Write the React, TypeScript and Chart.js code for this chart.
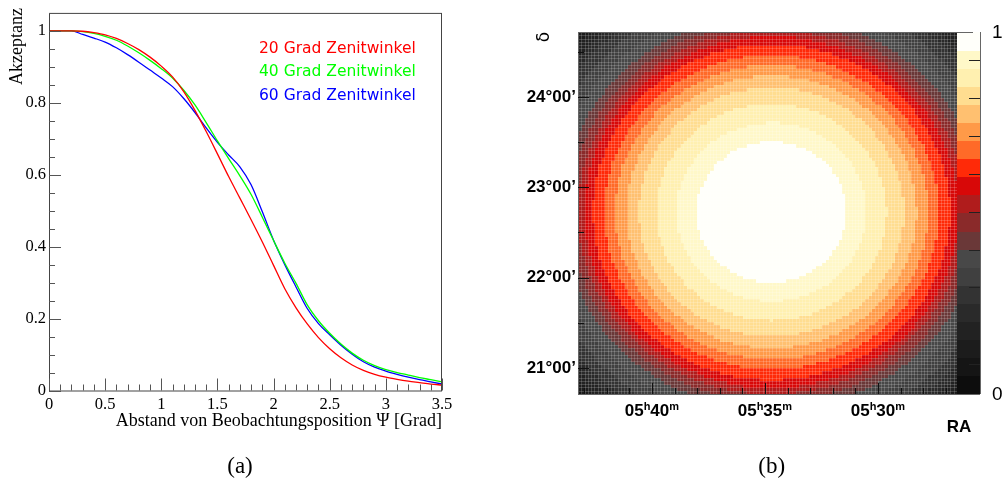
import React, { useEffect, useRef } from "react";
import { Chart, registerables } from "chart.js";

Chart.register(...registerables);

// ---------- Panel (a): acceptance vs. offset ----------
const psiDeg = [
  0, 0.1, 0.2, 0.3, 0.4, 0.5, 0.6, 0.7, 0.8, 0.9, 1.0, 1.1, 1.2, 1.3, 1.4, 1.5, 1.6, 1.7,
  1.8, 1.9, 2.0, 2.1, 2.2, 2.3, 2.4, 2.5, 2.6, 2.7, 2.8, 2.9, 3.0, 3.1, 3.2, 3.3, 3.4, 3.5,
];
const accept20 = [
  1.0, 1.0, 1.0, 0.999, 0.995, 0.989, 0.979, 0.965, 0.948, 0.927, 0.902, 0.872, 0.831, 0.779,
  0.72, 0.658, 0.595, 0.535, 0.475, 0.413, 0.348, 0.283, 0.23, 0.185, 0.147, 0.116, 0.091,
  0.071, 0.056, 0.045, 0.037, 0.031, 0.026, 0.022, 0.018, 0.015,
];
const accept40 = [
  1.0, 1.0, 1.0, 0.998, 0.993, 0.985, 0.974, 0.958, 0.939, 0.918, 0.895, 0.869, 0.835, 0.794,
  0.745, 0.694, 0.645, 0.597, 0.545, 0.482, 0.417, 0.354, 0.298, 0.238, 0.194, 0.159, 0.129,
  0.104, 0.084, 0.069, 0.058, 0.05, 0.043, 0.036, 0.03, 0.024,
];
const accept60 = [
  1.0, 1.0, 1.0, 0.99, 0.98, 0.969, 0.953, 0.934, 0.913, 0.891, 0.869, 0.845, 0.812, 0.773,
  0.73, 0.69, 0.655, 0.622, 0.572, 0.497, 0.418, 0.35, 0.288, 0.228, 0.186, 0.155, 0.126,
  0.101, 0.08, 0.065, 0.054, 0.045, 0.037, 0.03, 0.024, 0.018,
];
const seriesLabels = ["20 Grad Zenitwinkel", "40 Grad Zenitwinkel", "60 Grad Zenitwinkel"];
const seriesColors = ["#ff0000", "#00ff00", "#0000ff"];
const xTitleA = "Abstand von Beobachtungsposition \u03A8 [Grad]";
const yTitleA = "Akzeptanz";

// ---------- Panel (b): sky map ----------
// radial acceptance profile (distance from centre in degrees -> level)
const heatRadiusDeg = [0, 0.78, 0.99, 1.2, 1.38, 1.51, 1.63, 1.74, 1.86, 1.95, 2.02, 2.1, 2.19, 2.32, 2.45, 2.56, 2.65, 2.73, 2.81, 2.95, 3.2];
const heatLevel = [1.0, 0.95, 0.9, 0.85, 0.8, 0.75, 0.7, 0.65, 0.6, 0.55, 0.5, 0.45, 0.4, 0.35, 0.3, 0.25, 0.2, 0.15, 0.1, 0.05, 0.0];
const raCenterMin = 34.73; // RA minutes past 05h
const decCenterDeg = 22.73;
const raMinToDeg = 0.2354;
const raRangeMin = [26.5, 43.27];
const decRangeDeg = [20.71, 24.72];
const nRaBins = 115;
const nDecBins = 110;
const raTickMinutes = [40, 35, 30];
const raTickHour = "05";
const decTickDeg = [21, 22, 23, 24];
const colorbarTicks = [0.082, 0.187, 0.295, 0.398, 0.504, 0.608, 0.714, 0.818, 0.924];
const palette = [
  "#0d0d0d", "#151515", "#1c1c1c", "#222222", "#2a2a2a", "#333333", "#404040", "#484848",
  "#6a3838", "#8a2a2a", "#b01c1c", "#d80808", "#ff2a08", "#ff6a28", "#ff9a48", "#ffc070",
  "#ffdd90", "#fff0b0", "#fff8c8", "#fffffa",
];

function levelAt(r: number): number {
  if (r <= heatRadiusDeg[0]) return heatLevel[0];
  for (let i = 1; i < heatRadiusDeg.length; i++) {
    if (r <= heatRadiusDeg[i]) {
      const t = (r - heatRadiusDeg[i - 1]) / (heatRadiusDeg[i] - heatRadiusDeg[i - 1]);
      return heatLevel[i - 1] + t * (heatLevel[i] - heatLevel[i - 1]);
    }
  }
  return heatLevel[heatLevel.length - 1];
}

const dRa = (raRangeMin[1] - raRangeMin[0]) / nRaBins;
const dDec = (decRangeDeg[1] - decRangeDeg[0]) / nDecBins;

function buildCells() {
  const cells: { x: number; y: number; v: number }[] = [];
  for (let i = 0; i < nRaBins; i++) {
    const ra = raRangeMin[0] + (i + 0.5) * dRa;
    for (let j = 0; j < nDecBins; j++) {
      const dec = decRangeDeg[0] + (j + 0.5) * dDec;
      const r = Math.hypot((ra - raCenterMin) * raMinToDeg, dec - decCenterDeg);
      cells.push({ x: ra, y: dec, v: levelAt(r) });
    }
  }
  return cells;
}

function colorFor(v: number) {
  const k = Math.max(0, Math.min(19, Math.floor(v * 20)));
  return palette[k];
}

const fmtTick = (v: number | string) => String(Number(Number(v).toFixed(2)));

const leftPlugin = {
  id: "leftDecor",
  afterDraw(chart: any) {
    const { ctx, chartArea, scales } = chart;
    const xs = scales.x;
    const ys = scales.y;
    const { left, right, top, bottom } = chartArea;
    ctx.save();
    // frame
    ctx.strokeStyle = "#444";
    ctx.lineWidth = 1;
    ctx.strokeRect(left + 0.5, top + 0.5, right - left - 1, bottom - top);
    // ticks (inside)
    ctx.strokeStyle = "#555";
    for (let k = 0; k <= 21; k++) {
      const py = Math.round(ys.getPixelForValue(k * 0.05)) + 0.5;
      const len = k % 4 === 0 ? 12 : 6;
      ctx.beginPath();
      ctx.moveTo(left, py);
      ctx.lineTo(left + len, py);
      ctx.stroke();
    }
    for (let k = 0; k <= 35; k++) {
      const px = Math.round(xs.getPixelForValue(k * 0.1)) + 0.5;
      const len = k % 5 === 0 ? 12 : 6;
      ctx.beginPath();
      ctx.moveTo(px, bottom);
      ctx.lineTo(px, bottom - len);
      ctx.stroke();
    }
    // legend
    ctx.font = "15.5px 'DejaVu Sans'";
    ctx.textAlign = "left";
    ctx.textBaseline = "middle";
    const legendY = [49, 72, 96];
    seriesLabels.forEach((lab, i) => {
      ctx.fillStyle = seriesColors[i];
      ctx.fillText(lab, left + 210, legendY[i]);
    });
    // titles
    ctx.fillStyle = "#000";
    ctx.font = "18px 'Liberation Serif'";
    ctx.textAlign = "right";
    ctx.fillText(xTitleA, right, bottom + 31);
    ctx.save();
    ctx.translate(17.5, 8);
    ctx.rotate(-Math.PI / 2);
    ctx.textAlign = "right";
    ctx.textBaseline = "middle";
    ctx.fillText(yTitleA, 0, 0);
    ctx.restore();
    // caption
    ctx.font = "23px 'Liberation Serif'";
    ctx.textAlign = "center";
    ctx.textBaseline = "middle";
    ctx.fillText("(a)", 240, 467);
    ctx.restore();
  },
};

const rightPlugin = {
  id: "rightDecor",
  beforeDatasetsDraw(chart: any) {
    const { ctx, chartArea, scales } = chart;
    const xs = scales.x;
    const ys = scales.y;
    const data = chart.data.datasets[0].data as { x: number; y: number; v: number }[];
    ctx.save();
    ctx.beginPath();
    ctx.rect(chartArea.left, chartArea.top, chartArea.right - chartArea.left, chartArea.bottom - chartArea.top);
    ctx.clip();
    for (const c of data) {
      const xa = xs.getPixelForValue(c.x - dRa / 2);
      const xb = xs.getPixelForValue(c.x + dRa / 2);
      const ya = ys.getPixelForValue(c.y - dDec / 2);
      const yb = ys.getPixelForValue(c.y + dDec / 2);
      const x0 = Math.floor(Math.min(xa, xb));
      const x1 = Math.ceil(Math.max(xa, xb));
      const y0 = Math.floor(Math.min(ya, yb));
      const y1 = Math.ceil(Math.max(ya, yb));
      ctx.fillStyle = colorFor(c.v);
      ctx.fillRect(x0, y0, x1 - x0, y1 - y0);
    }
    // fine bin texture
    ctx.strokeStyle = "rgba(255,255,255,0.18)";
    ctx.lineWidth = 1;
    for (let i = 0; i <= nRaBins; i++) {
      const px = Math.round(xs.getPixelForValue(raRangeMin[0] + i * dRa)) + 0.5;
      ctx.beginPath();
      ctx.moveTo(px, chartArea.top);
      ctx.lineTo(px, chartArea.bottom);
      ctx.stroke();
    }
    for (let j = 0; j <= nDecBins; j++) {
      const py = Math.round(ys.getPixelForValue(decRangeDeg[0] + j * dDec)) + 0.5;
      ctx.beginPath();
      ctx.moveTo(chartArea.left, py);
      ctx.lineTo(chartArea.right, py);
      ctx.stroke();
    }
    ctx.restore();
  },
  afterDraw(chart: any) {
    const { ctx, chartArea, scales } = chart;
    const xs = scales.x;
    const ys = scales.y;
    const zs = scales.z;
    const { left, right, top, bottom } = chartArea;
    const cbW = 23;
    ctx.save();
    // colour bar
    for (let k = 0; k < 20; k++) {
      const ya = zs.getPixelForValue(k / 20);
      const yb = zs.getPixelForValue((k + 1) / 20);
      ctx.fillStyle = palette[k];
      ctx.fillRect(right, Math.floor(yb), cbW, Math.ceil(ya) - Math.floor(yb));
    }
    ctx.strokeStyle = "#666";
    ctx.lineWidth = 1;
    ctx.beginPath();
    ctx.moveTo(left, top + 0.5);
    ctx.lineTo(right + 16, top + 0.5);
    ctx.moveTo(right + cbW + 0.5, top);
    ctx.lineTo(right + cbW + 0.5, bottom);
    ctx.moveTo(left, bottom + 0.5);
    ctx.lineTo(right + cbW, bottom + 0.5);
    ctx.moveTo(left + 0.5, top);
    ctx.lineTo(left + 0.5, bottom);
    ctx.stroke();
    ctx.strokeStyle = "#222";
    for (const t of colorbarTicks) {
      const py = Math.round(zs.getPixelForValue(t)) + 0.5;
      ctx.beginPath();
      ctx.moveTo(right + cbW, py);
      ctx.lineTo(right + cbW - 11, py);
      ctx.stroke();
    }
    // map ticks
    ctx.strokeStyle = "#111";
    for (let k = 0; k <= 8; k++) {
      const d = 20.5 + k * 0.5;
      if (d < decRangeDeg[0] || d > decRangeDeg[1]) continue;
      const py = Math.round(ys.getPixelForValue(d)) + 0.5;
      const len = k % 2 === 1 ? 11 : 6;
      ctx.beginPath();
      ctx.moveTo(left, py);
      ctx.lineTo(left + len, py);
      ctx.stroke();
    }
    for (let m = 27; m <= 43; m++) {
      const px = Math.round(xs.getPixelForValue(m)) + 0.5;
      const len = m % 5 === 0 ? 11 : 6;
      ctx.beginPath();
      ctx.moveTo(px, bottom);
      ctx.lineTo(px, bottom - len);
      ctx.stroke();
    }
    // dec labels
    ctx.fillStyle = "#000";
    ctx.font = "bold 17px 'Liberation Sans'";
    ctx.textAlign = "right";
    ctx.textBaseline = "middle";
    for (const d of decTickDeg) {
      ctx.fillText(`${d}\u00B000\u2019`, left - 2, ys.getPixelForValue(d));
    }
    // RA labels with superscripts
    ctx.textAlign = "left";
    ctx.textBaseline = "alphabetic";
    const mainFont = "bold 17px 'Liberation Sans'";
    const supFont = "bold 11px 'Liberation Sans'";
    for (const m of raTickMinutes) {
      const parts: [string, boolean][] = [
        [raTickHour, false],
        ["h", true],
        [String(m).padStart(2, "0"), false],
        ["m", true],
      ];
      let w = 0;
      for (const [s, sup] of parts) {
        ctx.font = sup ? supFont : mainFont;
        w += ctx.measureText(s).width;
      }
      let px = xs.getPixelForValue(m) - w / 2;
      const base = bottom + 22;
      for (const [s, sup] of parts) {
        ctx.font = sup ? supFont : mainFont;
        ctx.fillText(s, px, sup ? base - 6.5 : base);
        px += ctx.measureText(s).width;
      }
    }
    ctx.font = "bold 17px 'Liberation Sans'";
    ctx.textAlign = "center";
    ctx.textBaseline = "middle";
    ctx.fillText("RA", right + 2, bottom + 33);
    // delta title
    ctx.save();
    ctx.translate(left - 33, top + 5);
    ctx.rotate(-Math.PI / 2);
    ctx.font = "17px 'DejaVu Sans'";
    ctx.textAlign = "center";
    ctx.textBaseline = "middle";
    ctx.fillText("\u03B4", 0, 0);
    ctx.restore();
    // colour bar labels
    ctx.font = "19px 'Liberation Sans'";
    ctx.textAlign = "left";
    ctx.textBaseline = "middle";
    ctx.fillText("1", right + 35, zs.getPixelForValue(1) + 1);
    ctx.fillText("0", right + 35, zs.getPixelForValue(0) + 1);
    // caption
    ctx.font = "23px 'Liberation Serif'";
    ctx.textAlign = "center";
    ctx.fillText("(b)", 271.7, 467);
    ctx.restore();
  },
};

export default function App() {
  const leftRef = useRef<HTMLCanvasElement>(null);
  const rightRef = useRef<HTMLCanvasElement>(null);

  useEffect(() => {
    const series = [accept20, accept40, accept60];
    const left = new Chart(leftRef.current as HTMLCanvasElement, {
      type: "line",
      data: {
        datasets: series.map((vals, i) => ({
          label: seriesLabels[i],
          data: psiDeg.map((x, k) => ({ x, y: vals[k] })),
          borderColor: seriesColors[i],
          backgroundColor: seriesColors[i],
          borderWidth: 1.3,
          pointRadius: 0,
          fill: false,
          cubicInterpolationMode: "monotone" as const,
        })),
      },
      options: {
        animation: false,
        responsive: false,
        devicePixelRatio: 1,
        layout: { padding: { left: 0, top: 9, right: 58, bottom: 44 } },
        plugins: { legend: { display: false }, tooltip: { enabled: false } },
        scales: {
          x: {
            type: "linear",
            min: 0,
            max: 3.5,
            grid: { display: false, drawTicks: false },
            border: { display: false },
            ticks: {
              stepSize: 0.5,
              autoSkip: false,
              maxRotation: 0,
              padding: 4,
              color: "#000",
              font: { family: "'Liberation Serif'", size: 16.5 },
              callback: fmtTick,
            },
            afterFit: (s: any) => {
              s.height = 49.5;
            },
          },
          y: {
            type: "linear",
            min: 0,
            max: 1.05,
            grid: { display: false, drawTicks: false },
            border: { display: false },
            ticks: {
              stepSize: 0.2,
              includeBounds: false,
              padding: 3,
              color: "#000",
              font: { family: "'Liberation Serif'", size: 16.5 },
              callback: fmtTick,
            },
            afterFit: (s: any) => {
              s.width = 49;
            },
          },
        },
      },
      plugins: [leftPlugin],
    } as any);

    const right = new Chart(rightRef.current as HTMLCanvasElement, {
      type: "scatter",
      data: {
        datasets: [
          {
            label: "acceptance map",
            data: buildCells(),
            pointRadius: 0,
            pointHoverRadius: 0,
            showLine: false,
          },
        ],
      },
      options: {
        animation: false,
        responsive: false,
        devicePixelRatio: 1,
        events: [],
        layout: { padding: { left: 0, top: 32, right: 0, bottom: 44 } },
        plugins: { legend: { display: false }, tooltip: { enabled: false } },
        scales: {
          x: {
            type: "linear",
            reverse: true,
            min: raRangeMin[0],
            max: raRangeMin[1],
            grid: { display: false, drawTicks: false },
            border: { display: false },
            ticks: { display: false },
            afterFit: (s: any) => {
              s.height = 46;
            },
          },
          y: {
            type: "linear",
            min: decRangeDeg[0],
            max: decRangeDeg[1],
            grid: { display: false, drawTicks: false },
            border: { display: false },
            ticks: { display: false },
            afterFit: (s: any) => {
              s.width = 78;
            },
          },
          z: {
            type: "linear",
            axis: "y",
            position: "right",
            min: 0,
            max: 1,
            grid: { display: false, drawTicks: false },
            border: { display: false },
            ticks: { display: false },
            afterFit: (s: any) => {
              s.width = 46;
            },
          },
        },
      },
      plugins: [rightPlugin],
    } as any);

    return () => {
      left.destroy();
      right.destroy();
    };
  }, []);

  return (
    <div style={{ position: "absolute", left: 0, top: 0, width: 1003, height: 484, background: "#fff" }}>
      <canvas ref={leftRef} width={500} height={484} style={{ position: "absolute", left: 0, top: 0, width: 500, height: 484 }} />
      <canvas ref={rightRef} width={503} height={484} style={{ position: "absolute", left: 500, top: 0, width: 503, height: 484 }} />
    </div>
  );
}
